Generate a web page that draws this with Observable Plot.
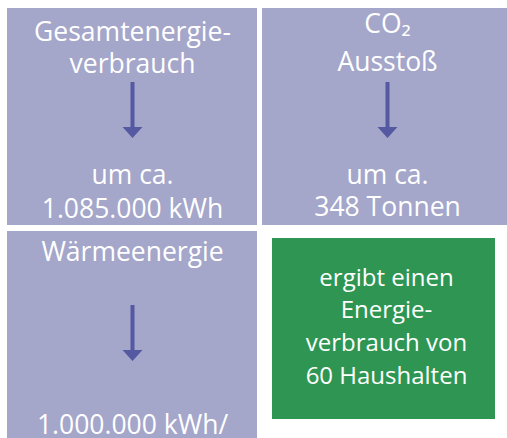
<!DOCTYPE html>
<html>
<head>
<meta charset="utf-8">
<script src="https://cdn.jsdelivr.net/npm/d3@7"></script>
<script src="https://cdn.jsdelivr.net/npm/@observablehq/plot@0.6"></script>
<style>
  html, body { margin: 0; padding: 0; background: #ffffff; overflow: hidden; }
  #chart svg { display: block; }
</style>
</head>
<body>
<div id="chart"></div>
<script>
// --- data ---
const columns = ["links", "rechts"];
const rows = ["oben", "unten"];
const tileCol = ["links", "rechts", "links"];
const tileRow = ["oben", "oben", "unten"];
const titles = ["Gesamtenergie-\nverbrauch", "CO₂\nAusstoß", "Wärmeenergie"];
const results = ["um ca.\n1.085.000 kWh", "um ca.\n348 Tonnen", "1.000.000 kWh/"];
const summaryCol = ["rechts"];
const summaryRow = ["unten"];
const summaryText = ["ergibt einen\nEnergie-\nverbrauch von\n60 Haushalten"];

// --- styles ---
const lavender = "#a4a6ca";
const arrowBlue = "#5459a1";
const green = "#2e9652";
const font = "Open Sans";
const tileFont = 26.5;
const tileIdx = tileCol.map((_, i) => i);

const arrowShape = {
  draw(ctx, l) {
    const hw = 10, hh = 11, sw = 2;
    ctx.moveTo(-sw, 0);
    ctx.lineTo(-sw, -(l - hh));
    ctx.lineTo(-hw, -(l - hh));
    ctx.lineTo(0, -l);
    ctx.lineTo(hw, -(l - hh));
    ctx.lineTo(sw, -(l - hh));
    ctx.lineTo(sw, 0);
    ctx.closePath();
  }
};

const titleStyle = [
  {dy: -44.5, lineHeight: 32 / tileFont},
  {dy: -46.5, lineHeight: 38 / tileFont},
  {dy: -79.5, lineHeight: 32 / tileFont}
];
const resultStyle = [
  {dy: 100.5, lineHeight: 34 / tileFont},
  {dy: 98.5, lineHeight: 32 / tileFont},
  {dy: 93.5, lineHeight: 34 / tileFont}
];

const textMarks = [];
tileIdx.forEach(i => {
  textMarks.push(Plot.text([i], {
    x: d => tileCol[d], y: d => tileRow[d], text: d => titles[d],
    lineAnchor: "bottom", dy: titleStyle[i].dy, lineHeight: titleStyle[i].lineHeight,
    fill: "white", fontSize: tileFont, fontFamily: font
  }));
  textMarks.push(Plot.text([i], {
    x: d => tileCol[d], y: d => tileRow[d], text: d => results[d],
    lineAnchor: "bottom", dy: resultStyle[i].dy, lineHeight: resultStyle[i].lineHeight,
    fill: "white", fontSize: tileFont, fontFamily: font
  }));
});

const chart = Plot.plot({
  width: 507,
  height: 438,
  margin: 0,
  style: {background: "white", fontFamily: font},
  x: {type: "band", domain: columns, range: [7, 512], paddingInner: 5 / 255, paddingOuter: 0, axis: null},
  y: {type: "band", domain: rows, range: [8, 448], paddingInner: 6 / 223, paddingOuter: 0, axis: null},
  marks: [
    Plot.cell(tileIdx, {x: i => tileCol[i], y: i => tileRow[i], fill: lavender}),
    Plot.cell(summaryText, {x: (d, i) => summaryCol[i], y: (d, i) => summaryRow[i], fill: green,
      insetLeft: 10, insetRight: 17, insetTop: 7, insetBottom: 29}),
    Plot.vector(tileIdx, {x: i => tileCol[i], y: i => tileRow[i], length: 56, anchor: "start", rotate: 180,
      shape: arrowShape, fill: arrowBlue, stroke: "none", dy: -35}),
    ...textMarks,
    Plot.text(summaryText, {x: (d, i) => summaryCol[i], y: (d, i) => summaryRow[i], text: d => d,
      lineAnchor: "bottom", dy: 43.5, dx: -1, lineHeight: 1.36,
      fill: "white", fontSize: 24, fontFamily: font})
  ]
});
document.getElementById("chart").appendChild(chart);
</script>
</body>
</html>
